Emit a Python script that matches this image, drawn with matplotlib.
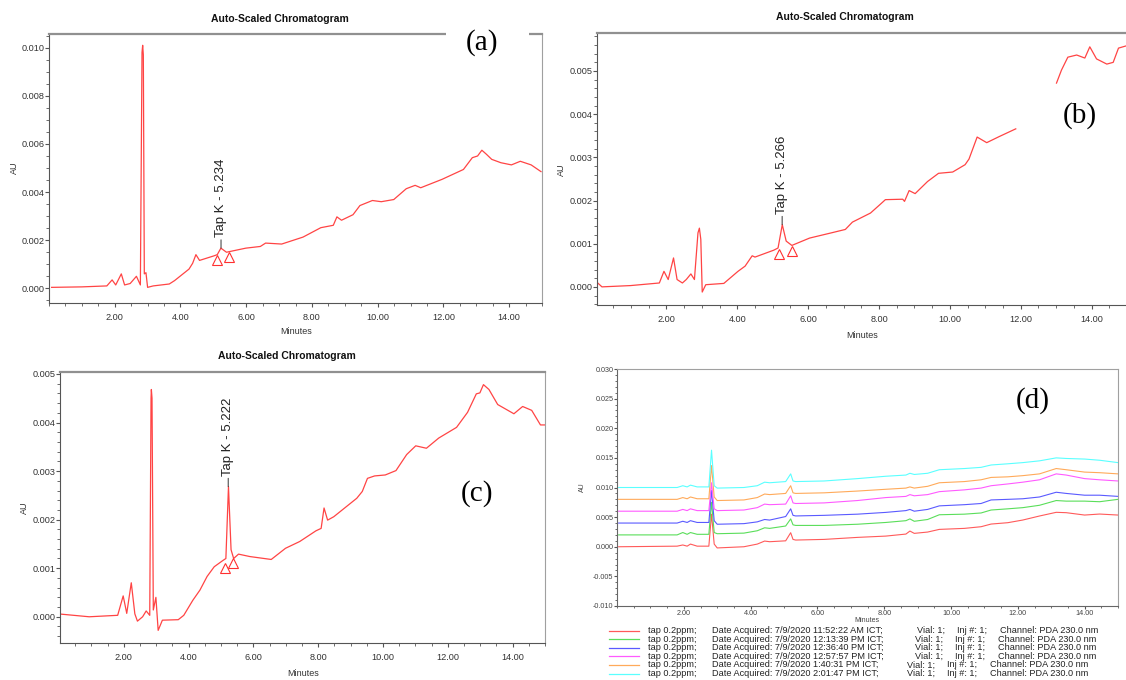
import matplotlib
matplotlib.use("Agg")
import matplotlib.pyplot as plt
import numpy as np
from matplotlib.lines import Line2D
from matplotlib.patches import Rectangle
from matplotlib.ticker import MultipleLocator, FormatStrFormatter

W, H = 1126, 680

# ---- data: (minutes, AU) ----
A_TRACE = [
    (0.08, 0.00004), (1.0, 0.00006), (1.76, 0.0001), (1.92, 0.00035), (2.03, 0.00014),
    (2.2, 0.0006), (2.3, 0.00014), (2.47, 0.0002), (2.66, 0.0005), (2.78, 0.00014),
    (2.83, 0.0098), (2.85, 0.0101), (2.87, 0.0097), (2.9, 0.0006), (2.95, 0.00065),
    (3.0, 0.00004), (3.17, 0.0001), (3.66, 0.00018), (3.82, 0.00032), (4.26, 0.0008),
    (4.37, 0.00104), (4.47, 0.0014), (4.58, 0.00116), (5.02, 0.00135), (5.12, 0.0014),
    (5.23, 0.00167), (5.4, 0.0015), (5.99, 0.00167), (6.43, 0.00174), (6.59, 0.00188),
    (7.08, 0.00184), (7.73, 0.00213), (8.27, 0.00252), (8.65, 0.00262), (8.76, 0.00297),
    (8.9, 0.00283), (9.25, 0.00306), (9.46, 0.00344), (9.84, 0.00365), (10.11, 0.0036),
    (10.49, 0.00369), (10.87, 0.00414), (11.14, 0.00428), (11.31, 0.00418), (11.96, 0.00453),
    (12.61, 0.00494), (12.88, 0.00543), (13.04, 0.0055), (13.17, 0.00574), (13.31, 0.00557),
    (13.47, 0.00536), (13.75, 0.00522), (14.07, 0.00513), (14.34, 0.00528), (14.67, 0.00513),
    (14.97, 0.00485),
]
B_TRACE = [
    (0.06, 0.00009), (0.18, 0.0), (0.99, 0.00003), (1.8, 0.00009), (1.93, 0.00036),
    (2.05, 0.00017), (2.2, 0.00067), (2.3, 0.00017), (2.45, 0.00009), (2.56, 0.00017),
    (2.69, 0.0003), (2.79, 0.00017), (2.89, 0.00125), (2.93, 0.00136), (2.97, 0.0011),
    (3.01, -0.00012), (3.11, 0.00005), (3.62, 0.00008), (4.02, 0.00036), (4.22, 0.00048),
    (4.42, 0.00072), (4.5, 0.00069), (5.03, 0.00085), (5.15, 0.0009), (5.27, 0.00144),
    (5.38, 0.00106), (5.54, 0.00096), (6.04, 0.00113), (6.65, 0.00125), (7.05, 0.00133),
    (7.25, 0.0015), (7.76, 0.00171), (8.06, 0.00193), (8.18, 0.00202), (8.67, 0.00203),
    (8.72, 0.00198), (8.85, 0.00223), (9.02, 0.00216), (9.37, 0.00244), (9.68, 0.00263),
    (10.08, 0.00266), (10.43, 0.00283), (10.54, 0.00296), (10.77, 0.00347), (11.04, 0.00334),
    (11.39, 0.00348), (11.86, 0.00366), (12.4, np.nan),
    (13.01, 0.00472), (13.15, 0.00502), (13.33, 0.00532), (13.58, 0.00537), (13.81, 0.0053),
    (13.95, 0.00556), (14.14, 0.00528), (14.43, 0.00516), (14.61, 0.0052), (14.76, 0.00553),
    (14.97, 0.00558),
]
C_TRACE = [
    (0.05, 0.000055), (0.93, 0.0), (1.81, 0.00003), (1.98, 0.00043), (2.09, 0.00007),
    (2.23, 0.0007), (2.34, 0.00006), (2.42, -0.00009), (2.58, 0.0), (2.69, 0.00012),
    (2.8, 0.00003), (2.84, 0.0045), (2.85, 0.00468), (2.87, 0.0045), (2.91, 0.00014),
    (2.99, 0.0004), (3.06, -0.00028), (3.19, -0.00007), (3.68, -0.00006), (3.85, 0.00003),
    (4.13, 0.00034), (4.35, 0.00055), (4.57, 0.00083), (4.79, 0.00103), (5.06, 0.00116),
    (5.15, 0.0012), (5.23, 0.00268), (5.31, 0.00138), (5.39, 0.0012), (5.54, 0.00129),
    (5.89, 0.00124), (6.55, 0.00118), (6.99, 0.00141), (7.43, 0.00155), (7.93, 0.00177),
    (8.09, 0.00182), (8.18, 0.00224), (8.29, 0.00199), (8.48, 0.00206), (9.19, 0.00244),
    (9.36, 0.00258), (9.52, 0.00285), (9.74, 0.0029), (10.07, 0.00292), (10.4, 0.00301),
    (10.73, 0.00334), (11.01, 0.00352), (11.34, 0.00347), (11.72, 0.00368), (12.27, 0.0039),
    (12.61, 0.00421), (12.88, 0.00459), (12.99, 0.00461), (13.1, 0.00478), (13.27, 0.00468),
    (13.54, 0.00437), (14.04, 0.00418), (14.31, 0.00433), (14.59, 0.00425), (14.86, 0.00395),
    (15.0, 0.00395),
]

# integration marks (triangles) and peak labels
A_TRI = [(5.12, 0.00118), (5.48, 0.00132)]
B_TRI = [(5.18, 0.00075), (5.54, 0.00082)]
C_TRI = [(5.12, 0.00100), (5.36, 0.00111)]
A_PEAK = ("Tap K - 5.234", 5.234, 0.00167)
B_PEAK = ("Tap K - 5.266", 5.266, 0.00144)
C_PEAK = ("Tap K - 5.222", 5.222, 0.00268)

# panel (d): six overlaid injections on a common time grid
D_T = [0.05, 1.8, 1.97, 2.1, 2.2, 2.4, 2.75, 2.83, 2.91, 3.0, 3.8, 4.2, 4.42, 4.57,
       5.05, 5.2, 5.27, 5.35, 6.2, 7.2, 8.05, 8.65, 8.77, 8.9, 9.3, 9.65, 10.4, 10.9,
       11.2, 11.7, 12.15, 12.65, 13.15, 13.45, 14.0, 14.45, 15.0]
D_RED = [0.0, 0.0001, 0.0003, 0.0001, 0.00045, 0.0001, 0.0001, 0.0055, 0.00045, -0.0002,
         0.0, 0.00045, 0.00096, 0.00085, 0.001, 0.00237, 0.00124, 0.00113, 0.00124, 0.00158,
         0.0018, 0.00214, 0.00265, 0.00226, 0.00248, 0.00293, 0.0031, 0.00338, 0.00383,
         0.00406, 0.00451, 0.00519, 0.00581, 0.00575, 0.00535, 0.00552, 0.00535]
D_GREEN = [0.002, 0.002, 0.0024, 0.0021, 0.0024, 0.0021, 0.0021, 0.0075, 0.0024, 0.0022,
           0.0023, 0.0027, 0.0032, 0.0031, 0.0035, 0.0047, 0.0037, 0.0036, 0.0036, 0.0038,
           0.0041, 0.0044, 0.0047, 0.0043, 0.0046, 0.0054, 0.0055, 0.0057, 0.0062, 0.0064,
           0.0066, 0.0070, 0.0078, 0.0077, 0.0077, 0.0076, 0.0080]
D_BLUE = [0.004, 0.004, 0.0043, 0.0041, 0.0044, 0.0041, 0.0041, 0.0095, 0.0044, 0.0038,
          0.0039, 0.0042, 0.0046, 0.0045, 0.0051, 0.0064, 0.0053, 0.0052, 0.0053, 0.0055,
          0.0058, 0.0061, 0.0063, 0.006, 0.0063, 0.0069, 0.0071, 0.0073, 0.0079, 0.008,
          0.0081, 0.0084, 0.0092, 0.009, 0.0087, 0.0087, 0.0085]
D_MAGENTA = [0.006, 0.006, 0.0063, 0.0061, 0.0064, 0.0061, 0.0061, 0.0108, 0.0064, 0.0061,
             0.0062, 0.0066, 0.0072, 0.0071, 0.0072, 0.0086, 0.0074, 0.0073, 0.0074, 0.0078,
             0.0083, 0.0085, 0.0088, 0.0086, 0.0088, 0.0093, 0.0096, 0.0099, 0.0103, 0.0106,
             0.0109, 0.0113, 0.0123, 0.0121, 0.0115, 0.0113, 0.0111]
D_ORANGE = [0.008, 0.008, 0.0083, 0.0081, 0.0084, 0.0081, 0.0081, 0.0137, 0.0084, 0.0078,
            0.0079, 0.0083, 0.0089, 0.0088, 0.009, 0.0103, 0.0091, 0.009, 0.0091, 0.0094,
            0.0097, 0.0099, 0.0101, 0.0099, 0.0102, 0.0108, 0.011, 0.0113, 0.0117, 0.0118,
            0.012, 0.0123, 0.0132, 0.013, 0.0126, 0.0125, 0.0123]
D_CYAN = [0.010, 0.010, 0.0103, 0.0101, 0.0104, 0.0101, 0.0101, 0.0163, 0.0103, 0.0099,
          0.01, 0.0103, 0.0109, 0.0108, 0.011, 0.0123, 0.0111, 0.011, 0.0111, 0.0115,
          0.0119, 0.0121, 0.0124, 0.0122, 0.0124, 0.013, 0.0132, 0.0134, 0.0138, 0.014,
          0.0142, 0.0145, 0.015, 0.0149, 0.0148, 0.0146, 0.0142]
D_TIMES = ["11:52:22 AM", "12:13:39 PM", "12:36:40 PM", "12:57:57 PM", "1:40:31 PM", "2:01:47 PM"]
D_COLORS = ["#ff5a5a", "#5ade5a", "#5a5aff", "#ff5aff", "#ffaa5a", "#5affff"]

X_TICKS = [2, 4, 6, 8, 10, 12, 14]

SANS = ["Liberation Sans", "DejaVu Sans"]
SERIF = ["Liberation Serif", "DejaVu Serif"]
RED = "#ff3030"

fig = plt.figure(figsize=(W / 100, H / 100), dpi=100)


def px_axes(left, top, right, bottom):
    return fig.add_axes([left / W, 1 - bottom / H, (right - left) / W, (bottom - top) / H])


def ftext(x, y, s, **kw):
    kw.setdefault("ha", "center")
    kw.setdefault("va", "center")
    return fig.text(x / W, 1 - y / H, s, **kw)


def style(ax, xlim, ylim, ymajor, yminor, size=6.6, color="#333333", xpad=4):
    ax.set_xlim(*xlim)
    ax.set_ylim(*ylim)
    ax.set_xticks(X_TICKS)
    ax.xaxis.set_minor_locator(MultipleLocator(0.5))
    ax.yaxis.set_major_locator(MultipleLocator(ymajor))
    ax.yaxis.set_minor_locator(MultipleLocator(yminor))
    ax.xaxis.set_major_formatter(FormatStrFormatter("%.2f"))
    ax.yaxis.set_major_formatter(FormatStrFormatter("%.3f"))
    ax.tick_params(which="major", length=3, width=0.8, color="#555555",
                   labelsize=size, labelcolor=color)
    ax.tick_params(which="minor", length=2, width=0.6, color="#555555")
    ax.tick_params(axis="x", which="both", pad=xpad)
    ax.tick_params(axis="y", which="major", pad=0.5)
    for lab in ax.get_xticklabels() + ax.get_yticklabels():
        lab.set_fontfamily(SANS)
    ax.spines["top"].set_color("#909090")
    ax.spines["top"].set_linewidth(1.6)
    ax.spines["right"].set_color("#a0a0a0")
    ax.spines["left"].set_color("#555555")
    ax.spines["bottom"].set_color("#555555")


def chromatogram(ax, trace, tri, peak):
    t, y = zip(*trace)
    ax.plot(t, y, color=RED, lw=0.9, alpha=0.9)
    tt, ty = zip(*tri)
    ax.plot(tt, ty, ls="none", marker="^", ms=6.5, mfc="none", mec=RED, mew=0.8)
    label, pt, py = peak
    ax.annotate(label, xy=(pt, py), xytext=(0, 8), textcoords="offset points",
                rotation=90, ha="center", va="bottom", fontsize=9.5, family=SANS,
                color="#222222",
                arrowprops=dict(arrowstyle="-", color="#333333", lw=0.7,
                                shrinkA=0, shrinkB=0))


TITLE = dict(fontsize=7.5, fontweight="bold", family=SANS, color="#111111")
AXLAB = dict(fontsize=6.5, family=SANS, color="#333333")

# (a)
ax_a = px_axes(49, 34, 542, 303)
chromatogram(ax_a, A_TRACE, A_TRI, A_PEAK)
style(ax_a, (0.0, 15.0), (-0.00061, 0.01057), 0.002, 0.0005)
ftext(280, 19, "Auto-Scaled Chromatogram", **TITLE)
ftext(296, 332, "Minutes", **AXLAB)
ftext(14, 168, "AU", rotation=90, **AXLAB)
fig.patches.append(Rectangle((446 / W, 1 - 57 / H), 83 / W, 27 / H, transform=fig.transFigure,
                             facecolor="white", edgecolor="none", zorder=5))
ftext(482, 43, "(a)", fontsize=21, family=SERIF, zorder=6)

# (b)
ax_b = px_axes(597, 33, 1127, 305)
chromatogram(ax_b, B_TRACE, B_TRI, B_PEAK)
style(ax_b, (0.04, 15.0), (-0.00042, 0.00588), 0.001, 0.0002)
ax_b.spines["right"].set_visible(False)
ftext(845, 17, "Auto-Scaled Chromatogram", **TITLE)
ftext(862, 336, "Minutes", **AXLAB)
ftext(561, 170, "AU", rotation=90, **AXLAB)
ftext(1080, 116, "(b)", fontsize=21, family=SERIF)

# (c)
ax_c = px_axes(60, 372, 545, 643)
chromatogram(ax_c, C_TRACE, C_TRI, C_PEAK)
style(ax_c, (0.03, 15.0), (-0.00054, 0.00504), 0.001, 0.0002)
ftext(287, 356, "Auto-Scaled Chromatogram", **TITLE)
ftext(303, 673, "Minutes", **AXLAB)
ftext(24, 508, "AU", rotation=90, **AXLAB)
ftext(477, 494, "(c)", fontsize=21, family=SERIF)

# (d)
ax_d = px_axes(617, 369, 1118, 606)
d_series = [D_RED, D_GREEN, D_BLUE, D_MAGENTA, D_ORANGE, D_CYAN]
for vals, col in zip(d_series, D_COLORS):
    ax_d.plot(D_T, vals, color=col, lw=0.8)
style(ax_d, (0.0, 15.0), (-0.010, 0.030), 0.005, 0.001, size=5.2, color="#444444", xpad=1)
ax_d.tick_params(which="major", length=2)
ax_d.tick_params(which="minor", length=1.5)
for sp in ax_d.spines.values():
    sp.set_color("#a0a0a0")
    sp.set_linewidth(0.8)
ax_d.spines["left"].set_color("#666666")
ax_d.spines["bottom"].set_color("#666666")
ftext(867, 621, "Minutes", fontsize=5, family=SANS, color="#444444")
ftext(582, 487, "AU", fontsize=5, family=SANS, rotation=90, color="#444444")
ftext(1033, 401, "(d)", fontsize=21, family=SERIF)

# legend rows of panel (d), laid out like the instrument printout
row_y0, row_step = 630.5, 8.6
vial_x = [917, 915, 915, 915, 907, 907]
LEG = dict(ha="left", fontsize=6.6, family=SANS, color="#222222")
for i, (col, when) in enumerate(zip(D_COLORS, D_TIMES)):
    y = row_y0 + i * row_step
    fig.add_artist(Line2D([609 / W, 639 / W], [1 - y / H, 1 - y / H], color=col, lw=0.9))
    ftext(648, y, "tap 0.2ppm;", **LEG)
    ftext(712, y, f"Date Acquired: 7/9/2020 {when} ICT;", **LEG)
    ftext(vial_x[i], y, "Vial: 1;", **LEG)
    ftext(vial_x[i] + 40, y, "Inj #: 1;", **LEG)
    ftext(vial_x[i] + 83, y, "Channel: PDA 230.0 nm", **LEG)

fig.savefig("out.png", dpi=100)
